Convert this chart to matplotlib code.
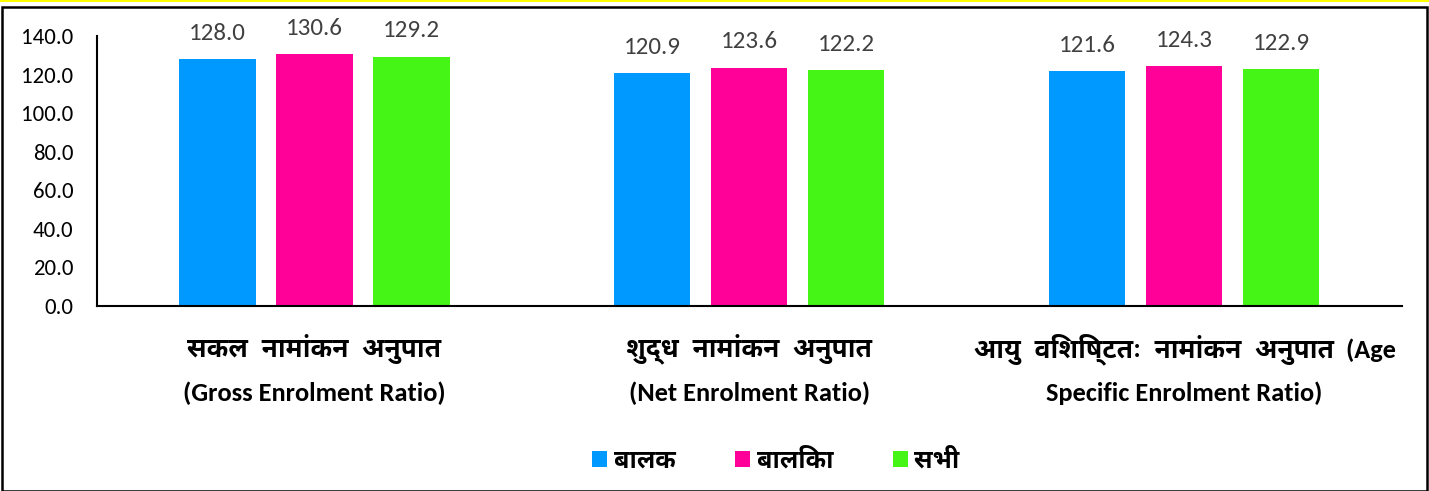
import matplotlib
matplotlib.use("Agg")
import matplotlib.pyplot as plt
from matplotlib.patches import Rectangle, Patch
import numpy as np

cat_hindi = ["सकल  नामांकन  अनुपात", "शुद्ध  नामांकन  अनुपात", "आयु  विशिष्टतः  नामांकन  अनुपात"]
cat_tail = ["", "", "(Age"]
cat_english = ["(Gross Enrolment Ratio)", "(Net Enrolment Ratio)", "Specific Enrolment Ratio)"]
series_names = ["बालक", "बालिका", "सभी"]
boys = [128.0, 120.9, 121.6]
girls = [130.6, 123.6, 124.3]
total = [129.2, 122.2, 122.9]
colors = ["#0099FF", "#FF0099", "#44F516"]

fam = ["Carlito", "Noto Sans Devanagari UI", "Noto Sans Devanagari", "DejaVu Sans"]
deva = ["Noto Sans Devanagari UI", "Noto Sans Devanagari", "Carlito", "DejaVu Sans"]
plt.rcParams["font.family"] = fam

fig = plt.figure(figsize=(14.29, 4.91), dpi=100)
ax = fig.add_axes([0.0679, 0.3768, 0.913, 0.55])

x = np.arange(len(cat_hindi))
w = 0.175
step = 0.223
for i, (vals, c) in enumerate(zip([boys, girls, total], colors)):
    bars = ax.bar(x + (i - 1) * step, vals, w, color=c, label=series_names[i])
    ax.bar_label(bars, labels=["%.1f" % v for v in vals], padding=11,
                 fontsize=18, color="#404040")

ax.set_xlim(-0.5, 2.5)
ax.set_ylim(0, 140)
ticks = np.arange(0, 141, 20)
ax.set_yticks(ticks)
ax.set_yticklabels(["%.1f" % t for t in ticks], fontsize=16.5)
ax.tick_params(axis="y", length=0, pad=17)
ax.tick_params(axis="x", length=0)
ax.set_xticks(x)
ax.set_xticklabels([])
for s in ["top", "right"]:
    ax.spines[s].set_visible(False)
ax.spines["left"].set_linewidth(1.5)
ax.spines["bottom"].set_linewidth(1.5)

for xi, hi, tail, en in zip(x, cat_hindi, cat_tail, cat_english):
    shift = -22 if tail else 0
    t1 = ax.annotate(hi, xy=(xi, 0), xycoords="data", xytext=(shift, -20),
                     textcoords="offset points", ha="center", va="top",
                     fontsize=19, fontweight="bold", family=deva)
    if tail:
        ax.annotate("  " + tail, xy=(1, 0.24), xycoords=t1, ha="left",
                    va="baseline", fontsize=19, fontweight="bold")
    ax.annotate(en, xy=(xi, 0), xycoords="data", xytext=(0, -54),
                textcoords="offset points", ha="center", va="top",
                fontsize=19, fontweight="bold")

handles = [Patch(facecolor=c) for c in colors]
fig.legend(handles, series_names, loc="center", bbox_to_anchor=(0.543, 0.06),
           ncol=3, frameon=False, handlelength=0.6, handleheight=0.6,
           handletextpad=0.25, columnspacing=2.4,
           prop={"family": deva, "weight": "bold", "size": 18})

fig.add_artist(Rectangle((0.0015, 0.0), 0.997, 0.986, transform=fig.transFigure,
                         fill=False, edgecolor="black", linewidth=1.8))
fig.add_artist(Rectangle((0.0, 0.996), 1.0, 0.004, transform=fig.transFigure,
                         facecolor="#FFFF00", edgecolor="none"))

fig.savefig("out.png", dpi=100)
